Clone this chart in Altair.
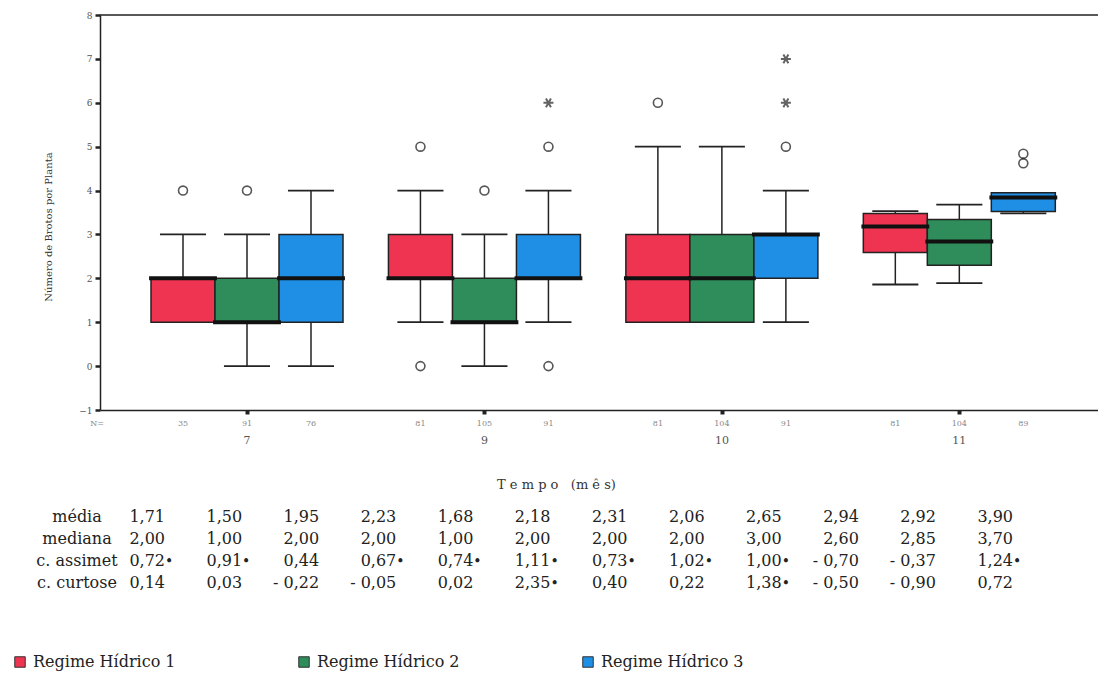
import altair as alt
import pandas as pd

# ---------------- data ----------------
months = ["7", "9", "10", "11"]
series = ["Regime Hídrico 1", "Regime Hídrico 2", "Regime Hídrico 3"]
colors = ["#EE3450", "#2E8D5A", "#1E8FE4"]

# box statistics, ordered month by month, series 1..3 inside each month
q1 = [1, 1, 1, 2, 1, 2, 1, 1, 2, 2.59, 2.30, 3.52]
med = [2, 1, 2, 2, 1, 2, 2, 2, 3, 3.18, 2.84, 3.84]
q3 = [2, 2, 3, 3, 2, 3, 3, 3, 3, 3.48, 3.34, 3.95]
lo = [1, 0, 0, 1, 0, 1, 1, 1, 1, 1.86, 1.89, 3.48]
hi = [3, 3, 4, 4, 3, 4, 5, 5, 4, 3.53, 3.68, 3.95]
counts = ["35", "91", "76", "81", "105", "91", "81", "104", "91", "81", "104", "89"]

# outliers: (box index, value)
circle_box = [0, 1, 3, 3, 4, 5, 5, 6, 8, 11, 11]
circle_val = [4, 4, 5, 0, 4, 5, 0, 6, 5, 4.62, 4.84]
star_box = [5, 8, 8]
star_val = [6, 6, 7]

row_labels = ["média", "mediana", "c. assimet", "c. curtose"]
media = ["1,71", "1,50", "1,95", "2,23", "1,68", "2,18", "2,31", "2,06", "2,65", "2,94", "2,92", "3,90"]
mediana = ["2,00", "1,00", "2,00", "2,00", "1,00", "2,00", "2,00", "2,00", "3,00", "2,60", "2,85", "3,70"]
assimet = ["0,72•", "0,91•", "0,44", "0,67•", "0,74•", "1,11•", "0,73•", "1,02•", "1,00•", "- 0,70", "- 0,37", "1,24•"]
curtose = ["0,14", "0,03", "- 0,22", "- 0,05", "0,02", "2,35•", "0,40", "0,22", "1,38•", "- 0,50", "- 0,90", "0,72"]

y_ticks = [-1, 0, 1, 2, 3, 4, 5, 6, 7, 8]

# ---------------- layout ----------------
W, H = 998, 395
GAP = 3.71          # distance between month groups, in box widths
FONT = "DejaVu Serif"

boxes = []
for i in range(12):
    g, s = divmod(i, 3)
    slot = g * GAP + s
    boxes.append(dict(slot=slot, left=slot - 0.5, right=slot + 0.5,
                      mleft=slot - 0.53, mright=slot + 0.53,
                      cl=slot - 0.36, cr=slot + 0.36,
                      q1=q1[i], med=med[i], q3=q3[i], lo=lo[i], hi=hi[i],
                      serie=series[s], n=counts[i]))
bdf = pd.DataFrame(boxes)
up = bdf[bdf.hi > bdf.q3]
dn = bdf[bdf.lo < bdf.q1]

cdf = pd.DataFrame({"slot": [boxes[b]["slot"] for b in circle_box], "v": circle_val})
sdf = pd.DataFrame({"slot": [boxes[b]["slot"] for b in star_box], "v": star_val})
mdf = pd.DataFrame({"slot": [g * GAP + 1 for g in range(4)], "m": months})

xs = alt.Scale(domain=[-83 / 64, (W - 83) / 64], nice=False, zero=False)
ys = alt.Scale(domain=[-1, 8], nice=False, zero=False)

X = lambda f: alt.X(f, type="quantitative", scale=xs)
Y = lambda f: alt.Y(f, type="quantitative", scale=ys)

whisk_up = alt.Chart(up).mark_rule(color="#222", strokeWidth=1.5).encode(
    x=X("slot"), y=Y("q3"), y2="hi")
whisk_dn = alt.Chart(dn).mark_rule(color="#222", strokeWidth=1.5).encode(
    x=X("slot"), y=Y("lo"), y2="q1")
cap_up = alt.Chart(up).mark_rule(color="#222", strokeWidth=1.8).encode(
    x=X("cl"), x2="cr", y=Y("hi"))
cap_dn = alt.Chart(dn).mark_rule(color="#222", strokeWidth=1.8).encode(
    x=X("cl"), x2="cr", y=Y("lo"))
box = alt.Chart(bdf).mark_rect(stroke="#222", strokeWidth=1.5).encode(
    x=X("left"), x2="right", y=Y("q1"), y2="q3",
    color=alt.Color("serie:N", scale=alt.Scale(domain=series, range=colors),
                    legend=alt.Legend(title=None, orient="none", legendX=-88, legendY=639,
                                      direction="horizontal", symbolType="square",
                                      symbolSize=110, symbolStrokeColor="#333",
                                      symbolStrokeWidth=1, labelFont=FONT,
                                      labelFontSize=16, labelColor="#222",
                                      columnPadding=120, labelOffset=5)))
median = alt.Chart(bdf).mark_rule(color="#111", strokeWidth=4).encode(
    x=X("mleft"), x2="mright", y=Y("med"))
circles = alt.Chart(cdf).mark_point(shape="circle", filled=False, color="#111",
                                    strokeWidth=1.6, size=80).encode(
    x=X("slot"), y=Y("v"))
stars = alt.Chart(sdf).mark_point(
    shape="M-1,0L1,0M-0.5,-0.87L0.5,0.87M-0.5,0.87L0.5,-0.87",
    filled=False, color="#222", strokeWidth=2, size=100).encode(
    x=X("slot"), y=Y("v"))

n_text = alt.Chart(bdf).mark_text(font=FONT, fontSize=8, color="#888").encode(
    x=X("slot"), y=alt.value(H + 14), text="n")
n_label = alt.Chart(bdf.head(1)).mark_text(font=FONT, fontSize=8, color="#888", text="N=").encode(
    x=alt.value(-3), y=alt.value(H + 14))
m_text = alt.Chart(mdf).mark_text(font=FONT, fontSize=11, color="#555").encode(
    x=X("slot"), y=alt.value(H + 31), text="m")
top_line = alt.Chart(mdf.head(1)).mark_rule(color="#222", strokeWidth=1.5).encode(
    x=alt.value(0), x2=alt.value(W), y=alt.value(0))

axis_layer = alt.Chart(bdf).mark_point(opacity=0).encode(
    x=alt.X("slot:Q", scale=xs,
            axis=alt.Axis(values=[g * GAP + 1 for g in range(4)], labels=False,
                          tickSize=4, tickWidth=4, tickColor="#222",
                          domainColor="#222", domainWidth=1.5, grid=False,
                          title="T e m p o \u00a0\u00a0(m ê s)", titleFont=FONT,
                          titleFontSize=13, titleFontWeight="normal", titleColor="#333",
                          titleX=456, titleY=68)),
    y=alt.Y("med:Q", scale=ys,
            axis=alt.Axis(values=y_ticks, tickSize=5, tickWidth=2.5, tickColor="#222",
                          domainColor="#222", domainWidth=1.5, grid=False,
                          labelFont=FONT, labelFontSize=9, labelColor="#555",
                          labelPadding=3,
                          title="Número de Brotos por Planta", titleFont=FONT,
                          titleFontSize=10, titleFontWeight="normal", titleColor="#333",
                          titleX=-52, titleY=H / 2 + 14, titleAlign="center",
                          titleBaseline="middle")))

plot = alt.layer(axis_layer, whisk_up, whisk_dn, cap_up, cap_dn, box, median,
                 circles, stars, n_text, n_label, m_text, top_line)

# ---------------- statistics table ----------------
rows = []
for r, vals in enumerate([media, mediana, assimet, curtose]):
    for c, v in enumerate(vals):
        rows.append(dict(row=r, col=c, val=v.replace("•", ""),
                         dot="•" if "•" in v else ""))
tdf = pd.DataFrame(rows)
ldf = pd.DataFrame({"row": list(range(4)), "lab": row_labels})
tx = alt.Scale(domain=[0, 11], range=[65, 913])
ty = alt.Scale(domain=[0, 3], range=[502, 568])

tvals = alt.Chart(tdf).mark_text(font=FONT, fontSize=16, color="#222", align="right").encode(
    x=alt.X("col:Q", scale=tx, axis=None), y=alt.Y("row:Q", scale=ty, axis=None), text="val")
tdots = alt.Chart(tdf).mark_text(font=FONT, fontSize=14, color="#222", align="left", dx=0, dy=1).encode(
    x=alt.X("col:Q", scale=tx, axis=None), y=alt.Y("row:Q", scale=ty, axis=None), text="dot")
tlabs = alt.Chart(ldf).mark_text(font=FONT, fontSize=16, color="#222", align="center").encode(
    x=alt.value(-23), y=alt.Y("row:Q", scale=ty, axis=None), text="lab")
table = alt.layer(tvals, tdots, tlabs)

chart = alt.layer(plot, table).resolve_scale(x="independent", y="independent").properties(
    width=W, height=H,
    padding={"left": 100, "top": 15, "right": 0, "bottom": 681 - 15 - H},
    autosize=alt.AutoSizeParams(type="none"),
    background="white",
).configure_view(stroke=None)

chart.save("out.html", embed_options={"renderer": "svg", "actions": False})
